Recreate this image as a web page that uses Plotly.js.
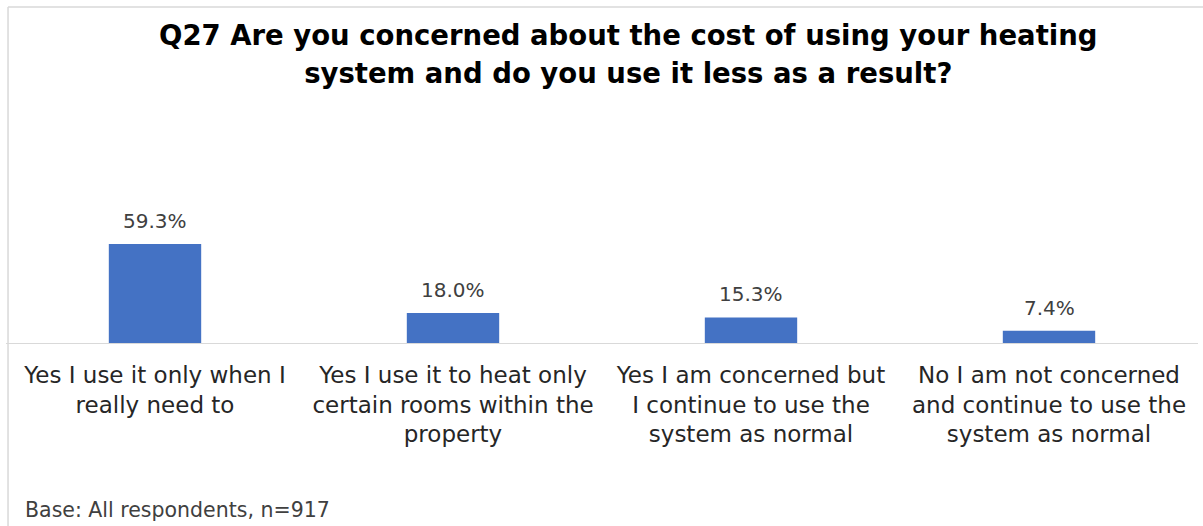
<!DOCTYPE html>
<html>
<head>
<meta charset="utf-8">
<script src="https://cdn.plot.ly/plotly-3.0.1.min.js"></script>
<style>html,body{margin:0;padding:0;background:#fff;}#chart{width:1203px;height:526px;}</style>
</head>
<body>
<div id="chart"></div>
<script>
const categories = ["c1", "c2", "c3", "c4"];
const tickLabels = [
  "Yes I use it only when I<br>really need to",
  "Yes I use it to heat only<br>certain rooms within the<br>property",
  "Yes I am concerned but<br>I continue to use the<br>system as normal",
  "No I am not concerned<br>and continue to use the<br>system as normal"
];
const values = [59.3, 18.0, 15.3, 7.4];
const valueLabels = values.map(v => v.toFixed(1) + "%");
const titleText = "Q27 Are you concerned about the cost of using your heating<br>system and do you use it less as a result?";
const footnote = "Base: All respondents, n=917";

function sized(t, px) {
  return t.split("<br>").map(s => '<span style="font-size:' + px + 'px">' + s + '</span>').join("<br>");
}

const trace = {
  type: "bar",
  x: categories,
  y: values,
  marker: {color: "#4472C4"},
  hoverinfo: "none"
};

const labelAnns = categories.map((c, i) => ({
  x: c, y: values[i], xref: "x", yref: "y",
  text: valueLabels[i], showarrow: false,
  xanchor: "center", yanchor: "bottom", yshift: 9,
  font: {family: "DejaVu Sans", size: 20, color: "#404040"}
}));

const layout = {
  width: 1203, height: 526,
  margin: {l: 6, r: 5, t: 130, b: 183},
  paper_bgcolor: "#ffffff", plot_bgcolor: "#ffffff",
  showlegend: false,
  bargap: 0.69,
  xaxis: {
    tickmode: "array", tickvals: categories,
    ticktext: tickLabels.map(t => sized(t, 23)),
    tickfont: {family: "DejaVu Sans", size: 23, color: "#262626"},
    showline: true, linecolor: "#d9d9d9", linewidth: 1,
    ticks: "", showgrid: false, zeroline: false,
    ticklabelstandoff: 11
  },
  yaxis: {range: [0, 127.5], visible: false, showgrid: false, zeroline: false},
  shapes: [
    {type: "line", xref: "paper", yref: "paper", x0: 0.0017, x1: 1.01, y0: 1.5775, y1: 1.5775, line: {color: "#d9d9d9", width: 1.5}},
    {type: "line", xref: "paper", yref: "paper", x0: 0.0017, x1: 0.0017, y0: 1.5775, y1: -0.9, line: {color: "#d9d9d9", width: 1.5}}
  ],
  annotations: labelAnns.concat([
    {text: "<b>" + sized(titleText, 27.5).replace(/<br>/g, "</b><br><b>") + "</b>", xref: "paper", yref: "paper",
     x: 0.522, y: 1.357, xanchor: "center", yanchor: "middle", align: "center",
     showarrow: false, font: {family: "DejaVu Sans", size: 29, color: "#000000"}},
    {text: footnote, xref: "paper", yref: "paper", x: 0.0143, y: -0.784, xanchor: "left", yanchor: "middle",
     showarrow: false, font: {family: "DejaVu Sans", size: 20.5, color: "#404040"}}
  ])
};

Plotly.newPlot("chart", [trace], layout, {displayModeBar: false, staticPlot: true});
</script>
</body>
</html>
